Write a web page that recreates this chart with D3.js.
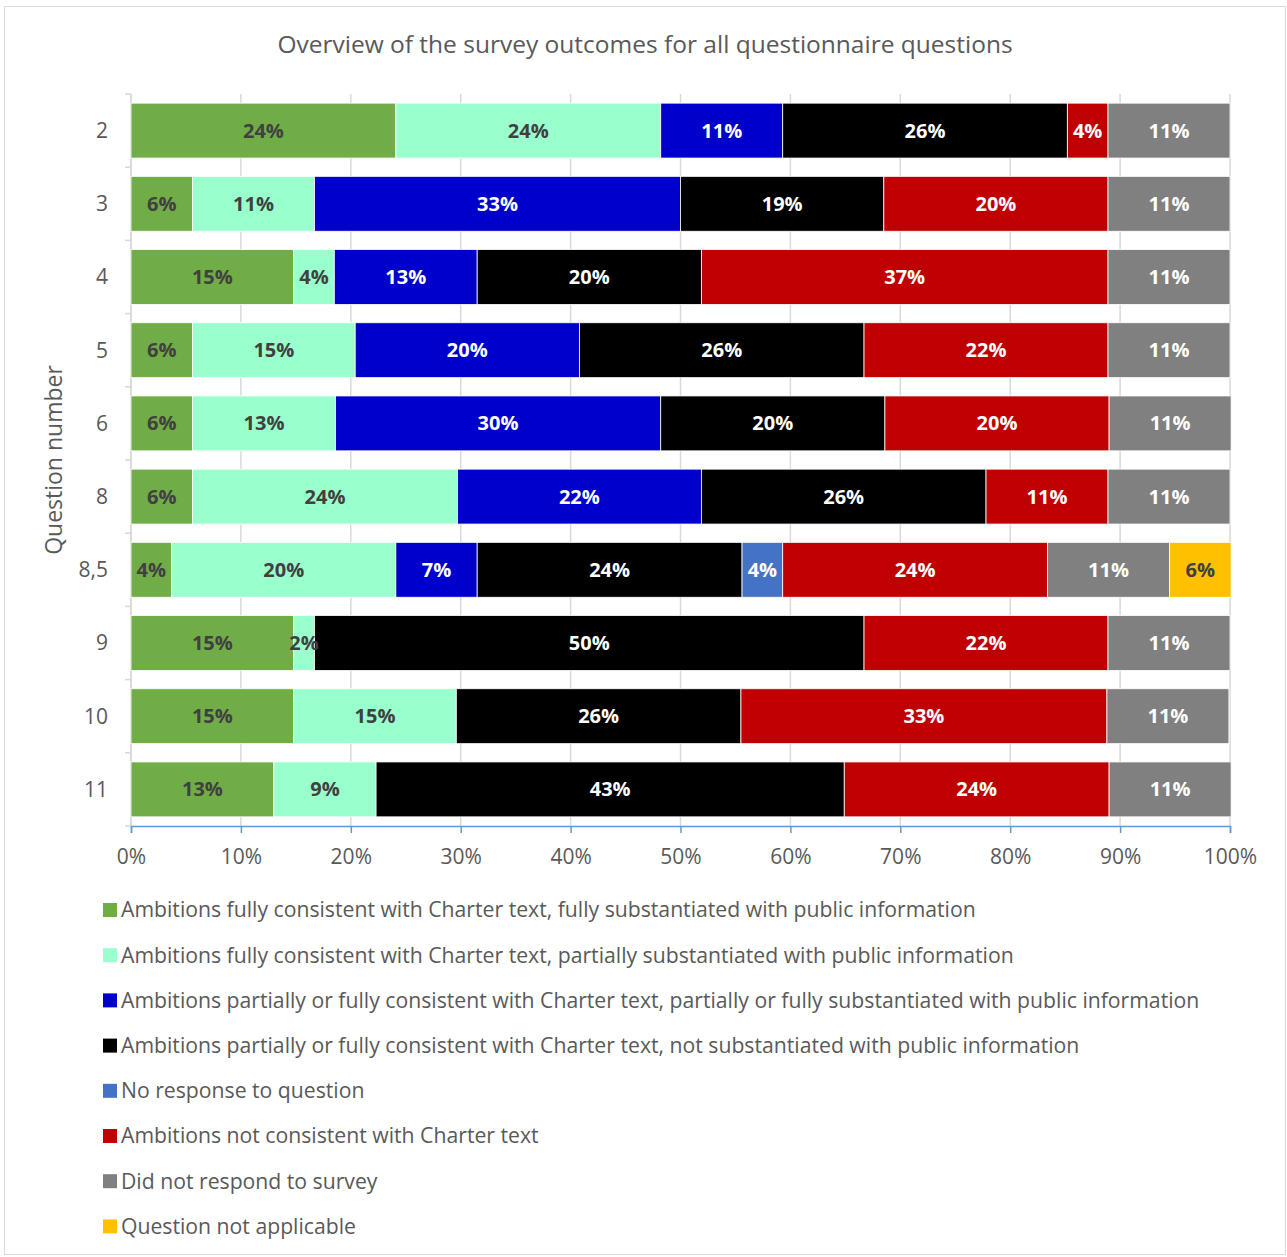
<!DOCTYPE html>
<html>
<head>
<meta charset="utf-8">
<script src="https://cdn.jsdelivr.net/npm/d3@7"></script>
<style>
    body { margin: 0; background: #fff; }
    #chart { width: 1287px; height: 1257px; }
    text { font-family: "Open Sans", Lato, sans-serif; }
</style>
</head>
<body>
<div id="chart"></div>
<script>

// question numbers (y categories)
const questions = ["2", "3", "4", "5", "6", "8", "8,5", "9", "10", "11"];

// answer categories, in stacking order
const categories = [
    "Ambitions fully consistent with Charter text, fully substantiated with public information",
    "Ambitions fully consistent with Charter text, partially substantiated with public information",
    "Ambitions partially or fully consistent with Charter text, partially or fully substantiated with public information",
    "Ambitions partially or fully consistent with Charter text, not substantiated with public information",
    "No response to question",
    "Ambitions not consistent with Charter text",
    "Did not respond to survey",
    "Question not applicable"
];

const colors = ["#70AD47", "#99FFCC", "#0000CC", "#000000", "#4472C4", "#C00000", "#808080", "#FFC000"];
const labelColors = ["#404040", "#404040", "#ffffff", "#ffffff", "#ffffff", "#ffffff", "#ffffff", "#404040"];

// share of answers (%) per question, one array per category
const fullyFully       = [24.1, 5.6, 14.8, 5.6, 5.6, 5.6, 3.7, 14.8, 14.8, 13.0];
const fullyPartially   = [24.1, 11.1, 3.7, 14.8, 13.0, 24.1, 20.4, 1.9, 14.8, 9.3];
const partialPartial   = [11.1, 33.3, 13.0, 20.4, 29.6, 22.2, 7.4, 0, 0, 0];
const notSubstantiated = [25.9, 18.5, 20.4, 25.9, 20.4, 25.9, 24.1, 50.0, 25.9, 42.6];
const noResponse       = [0, 0, 0, 0, 0, 0, 3.7, 0, 0, 0];
const notConsistent    = [3.7, 20.4, 37.0, 22.2, 20.4, 11.1, 24.1, 22.2, 33.3, 24.1];
const didNotRespond    = [11.1, 11.1, 11.1, 11.1, 11.1, 11.1, 11.1, 11.1, 11.1, 11.1];
const notApplicable    = [0, 0, 0, 0, 0, 0, 5.6, 0, 0, 0];

const series = [fullyFully, fullyPartially, partialPartial, notSubstantiated,
    noResponse, notConsistent, didNotRespond, notApplicable];

const xTicks = [0, 10, 20, 30, 40, 50, 60, 70, 80, 90, 100];


class StackedBarVis {

    constructor(parentElement) {
        this.parentElement = parentElement;
        this.initVis();
    }

    initVis() {
        let vis = this;

        vis.width = 1287;
        vis.height = 1257;
        vis.plot = {left: 131, right: 1230, top: 94, bottom: 826};

        vis.svg = d3.select("#" + vis.parentElement).append("svg")
            .attr("width", vis.width)
            .attr("height", vis.height);

        // chart frame
        vis.svg.append("rect")
            .attr("x", 4.5).attr("y", 6.5)
            .attr("width", 1281).attr("height", 1248)
            .attr("fill", "#fff")
            .attr("stroke", "#d9d9d9");

        vis.svg.append("text")
            .attr("x", 645).attr("y", 53)
            .attr("text-anchor", "middle")
            .attr("fill", "#595959")
            .style("font-size", "24.5px")
            .text("Overview of the survey outcomes for all questionnaire questions");

        vis.x = d3.scaleLinear().domain([0, 100]).range([vis.plot.left, vis.plot.right]);
        vis.y = d3.scaleBand().domain(questions)
            .range([vis.plot.top, vis.plot.bottom])
            .paddingInner(0.25).paddingOuter(0.125);

        // vertical gridlines
        vis.svg.append("g").selectAll("line")
            .data(xTicks)
            .enter().append("line")
            .attr("x1", d => vis.x(d)).attr("x2", d => vis.x(d))
            .attr("y1", vis.plot.top).attr("y2", vis.plot.bottom)
            .attr("stroke", "#d9d9d9").attr("stroke-width", 1.5);

        // category axis with ticks between bands
        let step = vis.y.step();
        let yBounds = d3.range(questions.length + 1).map(i => vis.plot.top + i * step);
        vis.svg.append("line")
            .attr("x1", vis.plot.left).attr("x2", vis.plot.left)
            .attr("y1", vis.plot.top).attr("y2", vis.plot.bottom)
            .attr("stroke", "#d9d9d9").attr("stroke-width", 1.5);
        vis.svg.append("g").selectAll("line")
            .data(yBounds)
            .enter().append("line")
            .attr("x1", vis.plot.left - 6).attr("x2", vis.plot.left)
            .attr("y1", d => d).attr("y2", d => d)
            .attr("stroke", "#d9d9d9").attr("stroke-width", 1.5);

        vis.svg.append("g").selectAll("text")
            .data(questions)
            .enter().append("text")
            .attr("x", 108)
            .attr("y", d => vis.y(d) + vis.y.bandwidth() / 2)
            .attr("dy", "0.35em")
            .attr("text-anchor", "end")
            .attr("fill", "#595959")
            .style("font-size", "21px")
            .text(d => d);

        vis.svg.append("text")
            .attr("transform", `translate(62, ${(vis.plot.top + vis.plot.bottom) / 2}) rotate(-90)`)
            .attr("text-anchor", "middle")
            .attr("fill", "#595959")
            .style("font-size", "23px")
            .text("Question number");

        vis.barGroup = vis.svg.append("g");
        vis.labelGroup = vis.svg.append("g");

        // value axis
        vis.xAxis = d3.axisBottom(vis.x)
            .tickValues(xTicks)
            .tickFormat(d => d + "%")
            .tickSize(7)
            .tickPadding(16);
        vis.xAxisGroup = vis.svg.append("g")
            .attr("transform", `translate(0, ${vis.plot.bottom})`)
            .call(vis.xAxis);
        vis.xAxisGroup.select(".domain").attr("stroke", "#5B9BD5").attr("stroke-width", 1.5);
        vis.xAxisGroup.selectAll(".tick line").attr("stroke", "#5B9BD5").attr("stroke-width", 1.5);
        vis.xAxisGroup.selectAll(".tick text")
            .attr("fill", "#595959")
            .style("font-size", "21px")
            .style("font-family", "'Open Sans', Lato, sans-serif");

        // legend
        vis.legend = vis.svg.append("g").selectAll("g")
            .data(categories)
            .enter().append("g")
            .attr("transform", (d, i) => `translate(103, ${910 + i * 45.2})`);
        vis.legend.append("rect")
            .attr("x", 0).attr("y", -7)
            .attr("width", 14).attr("height", 14)
            .attr("fill", (d, i) => colors[i]);
        vis.legend.append("text")
            .attr("x", 18).attr("dy", "0.35em")
            .attr("fill", "#595959")
            .style("font-size", "21.2px")
            .text(d => d);

        vis.wrangleData();
    }

    wrangleData() {
        let vis = this;

        // one row per question, keyed by category index
        vis.rows = questions.map((q, qi) => {
            let row = {question: q};
            series.forEach((s, ci) => { row[ci] = s[qi]; });
            return row;
        });

        vis.stacked = d3.stack().keys(d3.range(categories.length))(vis.rows);

        vis.updateVis();
    }

    updateVis() {
        let vis = this;

        let layers = vis.barGroup.selectAll("g")
            .data(vis.stacked)
            .enter().append("g")
            .attr("fill", (d, i) => colors[i]);

        layers.selectAll("rect")
            .data(d => d.filter(s => s[1] - s[0] > 0))
            .enter().append("rect")
            .attr("x", d => vis.x(d[0]))
            .attr("width", d => vis.x(d[1]) - vis.x(d[0]))
            .attr("y", d => vis.y(d.data.question))
            .attr("height", vis.y.bandwidth())
            .attr("stroke", "#fff")
            .attr("stroke-width", 0.8);

        let labels = vis.labelGroup.selectAll("g")
            .data(vis.stacked)
            .enter().append("g")
            .attr("fill", (d, i) => labelColors[i]);

        labels.selectAll("text")
            .data(d => d.filter(s => s[1] - s[0] > 0))
            .enter().append("text")
            .attr("x", d => vis.x((d[0] + d[1]) / 2))
            .attr("y", d => vis.y(d.data.question) + vis.y.bandwidth() / 2)
            .attr("dy", "0.35em")
            .attr("text-anchor", "middle")
            .style("font-size", "20px")
            .style("font-weight", "bold")
            .text(d => Math.round(d[1] - d[0]) + "%");
    }
}

let myVis = new StackedBarVis("chart");

</script>
</body>
</html>
